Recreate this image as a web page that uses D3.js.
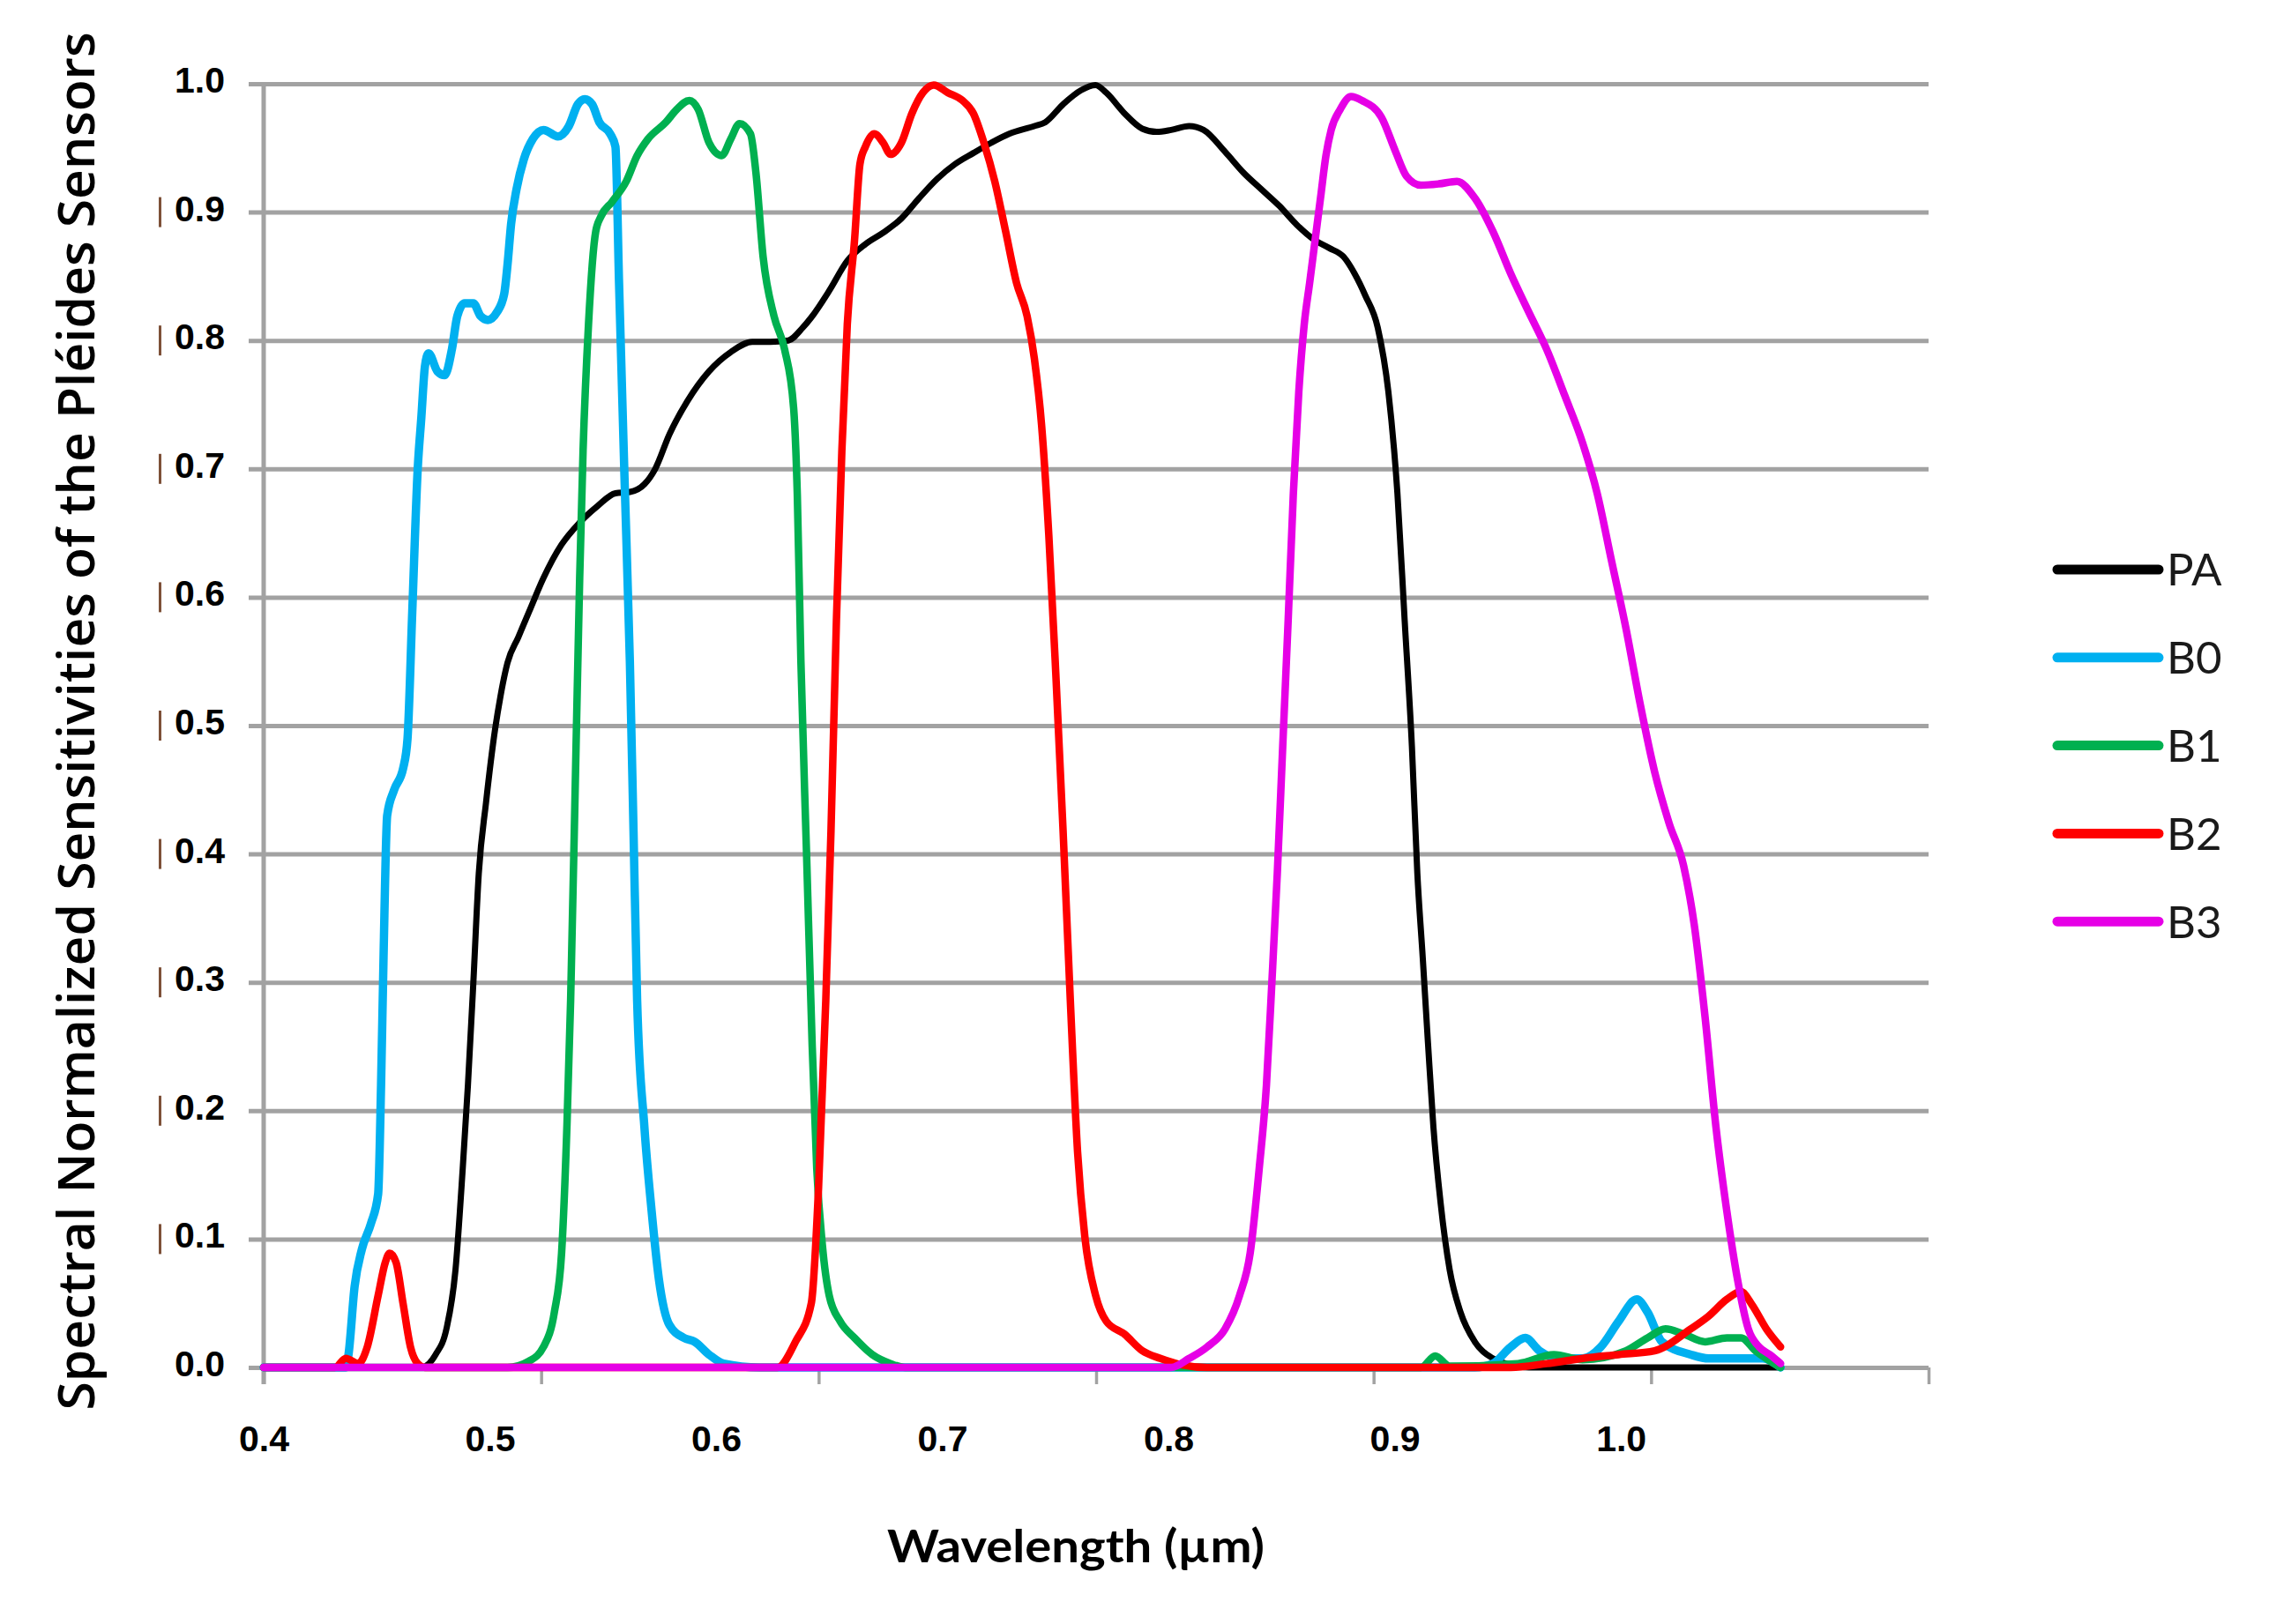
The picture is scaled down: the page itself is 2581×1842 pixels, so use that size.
<!DOCTYPE html>
<html>
<head>
<meta charset="utf-8">
<script src="https://cdn.jsdelivr.net/npm/d3@7"></script>
<style>
body{margin:0;background:#fff}
</style>
</head>
<body>
<div id="chart"></div>
<script>
/* series: [wavelength, sensitivity] */
const seriesNames = ["PA","B0","B1","B2","B3"];
const seriesColors = ["#000000","#00b0f0","#00b050","#ff0000","#e600e6"];

const PA = [[0.400,0],[0.4697,0],[0.4760,0.01],[0.4808,0.03],[0.4848,0.076],[0.4880,0.155],[0.4903,0.22],[0.4927,0.30],[0.4951,0.385],[0.4983,0.44],[0.5023,0.497],[0.5047,0.523],[0.5078,0.549],[0.5126,0.569],[0.5174,0.589],[0.5237,0.615],[0.5317,0.641],[0.5396,0.658],[0.5476,0.671],[0.5555,0.681],[0.5619,0.682],[0.5683,0.688],[0.5731,0.70],[0.5794,0.727],[0.5874,0.753],[0.5969,0.776],[0.6065,0.791],[0.6160,0.799],[0.6240,0.799],[0.6319,0.80],[0.6383,0.81],[0.6421,0.818],[0.6501,0.839],[0.6580,0.862],[0.6660,0.875],[0.6739,0.884],[0.6819,0.895],[0.6898,0.911],[0.6978,0.926],[0.7057,0.9375],[0.7137,0.946],[0.7216,0.954],[0.7296,0.961],[0.7407,0.967],[0.7455,0.970],[0.7534,0.984],[0.7614,0.995],[0.7677,0.999],[0.7725,0.993],[0.7805,0.977],[0.7884,0.965],[0.7948,0.9625],[0.8012,0.964],[0.8091,0.967],[0.8155,0.964],[0.8250,0.947],[0.8330,0.931],[0.8409,0.918],[0.8489,0.905],[0.8568,0.89],[0.8648,0.878],[0.8711,0.872],[0.8775,0.865],[0.8823,0.852],[0.8870,0.835],[0.8925,0.81],[0.8972,0.76],[0.9012,0.681],[0.9044,0.582],[0.9076,0.484],[0.9100,0.385],[0.9124,0.319],[0.9147,0.253],[0.9171,0.1875],[0.9203,0.128],[0.9243,0.076],[0.9291,0.043],[0.9354,0.02],[0.9434,0.007],[0.9513,0.002],[0.9593,0],[1.0706,0]];

const B0 = [[0.400,0],[0.4363,0],[0.4375,0.01],[0.4402,0.063],[0.4434,0.092],[0.4474,0.112],[0.4506,0.135],[0.4519,0.22],[0.4530,0.32],[0.4546,0.43],[0.4577,0.45],[0.4617,0.467],[0.4636,0.49],[0.4657,0.589],[0.4681,0.70],[0.4697,0.74],[0.4713,0.78],[0.4729,0.79],[0.4768,0.776],[0.4800,0.773],[0.4832,0.793],[0.4856,0.819],[0.4888,0.829],[0.4927,0.829],[0.4959,0.819],[0.4991,0.816],[0.5031,0.822],[0.5063,0.836],[0.5078,0.859],[0.5094,0.891],[0.5118,0.918],[0.5150,0.941],[0.5190,0.957],[0.5237,0.964],[0.5301,0.959],[0.5349,0.967],[0.5389,0.984],[0.5420,0.988],[0.5452,0.984],[0.5484,0.97],[0.5532,0.961],[0.5555,0.951],[0.5571,0.845],[0.5595,0.694],[0.5619,0.549],[0.5635,0.418],[0.5651,0.286],[0.5683,0.1875],[0.5715,0.122],[0.5747,0.069],[0.5794,0.033],[0.5858,0.023],[0.5905,0.02],[0.5969,0.01],[0.6033,0.003],[0.6192,0],[0.9354,0],[0.9434,0.003],[0.9513,0.016],[0.9577,0.023],[0.9640,0.013],[0.9720,0.007],[0.9831,0.007],[0.9911,0.016],[0.9990,0.036],[1.0070,0.053],[1.0118,0.043],[1.0181,0.02],[1.0309,0.01],[1.0388,0.007],[1.0627,0.007],[1.0706,0]];

const B1 = [[0.400,0],[0.5078,0],[0.5174,0.005],[0.5237,0.016],[0.5285,0.043],[0.5317,0.089],[0.5341,0.19],[0.5357,0.286],[0.5381,0.484],[0.5397,0.615],[0.5412,0.714],[0.5436,0.8125],[0.5468,0.885],[0.5492,0.897],[0.5540,0.908],[0.5603,0.924],[0.5651,0.944],[0.5699,0.957],[0.5778,0.970],[0.5826,0.98],[0.5882,0.987],[0.5921,0.98],[0.5969,0.954],[0.6025,0.944],[0.6065,0.957],[0.6104,0.969],[0.6152,0.961],[0.6176,0.931],[0.6208,0.865],[0.6256,0.819],[0.6303,0.793],[0.6343,0.747],[0.6359,0.68],[0.6375,0.55],[0.6400,0.40],[0.6425,0.25],[0.6445,0.155],[0.6470,0.095],[0.6500,0.056],[0.6548,0.036],[0.6612,0.023],[0.6691,0.01],[0.6771,0.003],[0.6835,0],[0.9116,0],[0.9179,0.009],[0.9243,0.001],[0.9545,0.003],[0.9704,0.01],[0.9831,0.006],[1.0022,0.013],[1.0118,0.023],[1.0197,0.03],[1.0277,0.026],[1.0372,0.02],[1.0468,0.023],[1.0531,0.023],[1.0595,0.013],[1.0706,0]];

const B2 = [[0.400,0],[0.4315,0],[0.4363,0.007],[0.4418,0.003],[0.4458,0.016],[0.4506,0.056],[0.4538,0.082],[0.4557,0.089],[0.4585,0.082],[0.4617,0.049],[0.4649,0.016],[0.4681,0.003],[0.4713,0],[0.6271,0],[0.6351,0.02],[0.6421,0.05],[0.6453,0.14],[0.6485,0.286],[0.6508,0.418],[0.6532,0.582],[0.6556,0.714],[0.6580,0.8125],[0.6612,0.878],[0.6636,0.9375],[0.6660,0.951],[0.6699,0.961],[0.6739,0.954],[0.6771,0.945],[0.6819,0.954],[0.6866,0.977],[0.6914,0.993],[0.6962,0.999],[0.7025,0.993],[0.7089,0.987],[0.7137,0.977],[0.7184,0.954],[0.7232,0.924],[0.7280,0.885],[0.7328,0.845],[0.7375,0.819],[0.7407,0.786],[0.7439,0.734],[0.7471,0.648],[0.7503,0.536],[0.7534,0.418],[0.7566,0.286],[0.7598,0.168],[0.7630,0.102],[0.7678,0.056],[0.7725,0.036],[0.7805,0.026],[0.7884,0.013],[0.7964,0.007],[0.8059,0.002],[0.8171,0],[0.9513,0],[0.9672,0.003],[0.9831,0.007],[0.9990,0.01],[1.0149,0.013],[1.0309,0.03],[1.0388,0.04],[1.0468,0.053],[1.0531,0.059],[1.0579,0.049],[1.0643,0.03],[1.0706,0.016]];

const B3 = [[0.400,0],[0.8012,0],[0.8091,0.007],[0.8171,0.016],[0.8250,0.03],[0.8314,0.056],[0.8361,0.089],[0.8401,0.155],[0.8433,0.22],[0.8457,0.30],[0.8481,0.385],[0.8505,0.484],[0.8529,0.582],[0.8552,0.681],[0.8576,0.76],[0.8600,0.8125],[0.8624,0.845],[0.8648,0.878],[0.8672,0.911],[0.8696,0.944],[0.8719,0.964],[0.8759,0.98],[0.8807,0.99],[0.8855,0.987],[0.8941,0.974],[0.9004,0.947],[0.9052,0.928],[0.9116,0.921],[0.9195,0.922],[0.9275,0.924],[0.9354,0.911],[0.9434,0.885],[0.9513,0.852],[0.9593,0.822],[0.9672,0.793],[0.9752,0.757],[0.9831,0.720],[0.9895,0.681],[0.9959,0.628],[1.0022,0.576],[1.0086,0.516],[1.0149,0.464],[1.0213,0.424],[1.0277,0.391],[1.0324,0.345],[1.0372,0.273],[1.0420,0.1875],[1.0468,0.122],[1.0515,0.069],[1.0563,0.030],[1.0611,0.016],[1.0658,0.01],[1.0706,0.003]];

const seriesData = [PA, B0, B1, B2, B3];

const yTicks = [0,0.1,0.2,0.3,0.4,0.5,0.6,0.7,0.8,0.9,1.0];
const xTickLabels = [0.4,0.5,0.6,0.7,0.8,0.9,1.0];
const xTickCount = 6;   // tick marks on the axis, not at the labels
const xMax = 1.136;

const yTitle = "Spectral Normalized Sensitivities of the Pléides Sensors";
const xTitle = "Wavelength (µm)";

/* layout */
var width = 2581;
var height = 1842;
var plotLeft = 299, plotRight = 2187, plotTop = 95, plotBottom = 1551;

var x = d3.scaleLinear().domain([0.4, xMax]).range([plotLeft, plotRight]);
var y = d3.scaleLinear().domain([0, 1]).range([plotBottom, plotTop]);

var svg = d3.select("#chart").append("svg")
  .attr("width", width)
  .attr("height", height)
  .style("background", "#fff");

var gridColor = "#a2a2a2";

/* grid lines (stick out a bit left of the axis) */
var grid = svg.append("g")
  .attr("transform", `translate(${plotLeft-17},0)`)
  .call(d3.axisLeft(y).tickValues(yTicks).tickSize(-(plotRight-plotLeft+17)).tickFormat(""));
grid.select(".domain").remove();
grid.selectAll("line").attr("stroke", gridColor).attr("stroke-width", 5);

/* vertical axis line */
svg.append("line")
  .attr("x1", x(0.4)).attr("x2", x(0.4))
  .attr("y1", y(1)).attr("y2", y(0) + 19)
  .attr("stroke", gridColor).attr("stroke-width", 5);

/* x tick marks */
var tickPos = d3.range(xTickCount + 1).map(k => 0.4 + k*(xMax-0.4)/xTickCount);
var xt = svg.append("g")
  .attr("transform", `translate(0,${plotBottom})`)
  .call(d3.axisBottom(x).tickValues(tickPos).tickSize(19).tickFormat(""));
xt.select(".domain").remove();
xt.selectAll("line").attr("stroke", gridColor).attr("stroke-width", 3.5);

/* x labels */
var xl = svg.append("g")
  .attr("transform", `translate(0,${plotBottom})`)
  .call(d3.axisBottom(x).tickValues(xTickLabels).tickSize(0).tickPadding(66).tickFormat(d3.format(".1f")));
xl.select(".domain").remove();
xl.selectAll("text")
  .attr("fill", "#000")
  .style("font-family", "'Liberation Sans', Arial, sans-serif")
  .style("font-weight", "bold")
  .style("font-size", "41px");

/* y labels */
var yl = svg.append("g")
  .attr("transform", `translate(${plotLeft},0)`)
  .call(d3.axisLeft(y).tickValues(yTicks).tickSize(0).tickPadding(44).tickFormat(d3.format(".1f")));
yl.select(".domain").remove();
yl.selectAll("text")
  .attr("fill", "#000")
  .attr("dy", "0.23em")
  .style("font-family", "'Liberation Sans', Arial, sans-serif")
  .style("font-weight", "bold")
  .style("font-size", "41px");

/* little brown marks left of the middle y labels */
svg.append("g").selectAll("rect")
  .data(yTicks.filter(d => d > 0.05 && d < 0.95))
  .enter().append("rect")
  .attr("x", 180)
  .attr("y", d => y(d) - 17)
  .attr("width", 3)
  .attr("height", 34)
  .attr("fill", "#7d5038");

/* lines */
var line = d3.line()
  .x(d => x(d[0]))
  .y(d => y(d[1]))
  .curve(d3.curveMonotoneX);

var widths = [7, 9.5, 8.5, 8.5, 8.5];
svg.append("g").selectAll("path")
  .data(seriesData)
  .enter().append("path")
  .attr("d", d => line(d))
  .attr("fill", "none")
  .attr("stroke", (d, i) => seriesColors[i])
  .attr("stroke-width", (d, i) => widths[i])
  .attr("stroke-linejoin", "round")
  .attr("stroke-linecap", "round");

/* legend */
var legend = svg.append("g").attr("transform", "translate(2333,646)");
var items = legend.selectAll("g")
  .data(seriesNames)
  .enter().append("g")
  .attr("transform", (d, i) => `translate(0,${i*99.8})`);
items.append("line")
  .attr("x1", 0).attr("x2", 115)
  .attr("stroke", (d, i) => seriesColors[i])
  .attr("stroke-width", 11)
  .attr("stroke-linecap", "round");
items.append("text")
  .attr("x", 124)
  .attr("dy", "0.36em")
  .attr("fill", "#1a1a1a")
  .style("font-family", "Lato, sans-serif")
  .style("font-size", "51px")
  .text(d => d);

/* axis titles */
svg.append("text")
  .attr("transform", "translate(107,818) rotate(-90)")
  .attr("text-anchor", "middle")
  .attr("textLength", 1563)
  .attr("lengthAdjust", "spacingAndGlyphs")
  .attr("fill", "#000")
  .style("font-family", "'Open Sans', sans-serif")
  .style("font-weight", 600)
  .style("font-size", "57px")
  .text(yTitle);

svg.append("text")
  .attr("x", 1220)
  .attr("y", 1772)
  .attr("text-anchor", "middle")
  .attr("textLength", 428)
  .attr("lengthAdjust", "spacingAndGlyphs")
  .attr("fill", "#000")
  .style("font-family", "Lato, sans-serif")
  .style("font-weight", "bold")
  .style("font-size", "52px")
  .text(xTitle);
</script>
</body>
</html>
